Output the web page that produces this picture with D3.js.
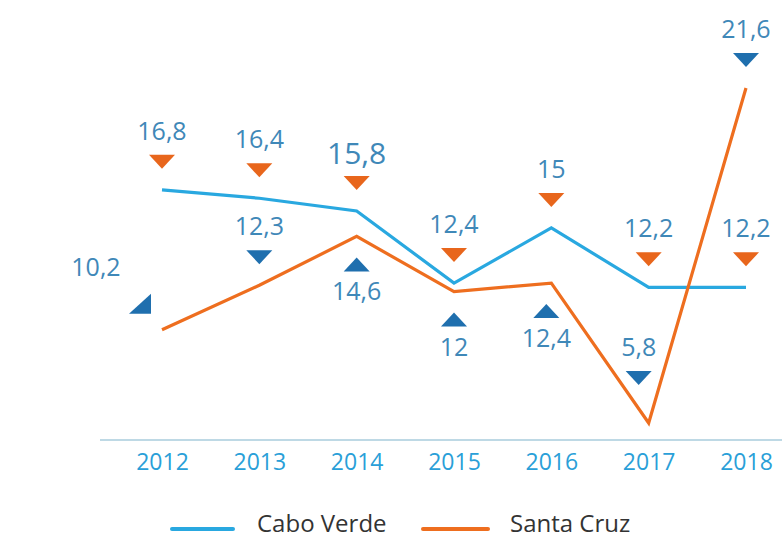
<!DOCTYPE html>
<html>
<head>
<meta charset="utf-8">
<script src="https://cdn.jsdelivr.net/npm/d3@7"></script>
<style>
  body { margin: 0; background: #fff; }
  text { font-family: "Open Sans", "Noto Sans", sans-serif; }
</style>
</head>
<body>
<script>
var years = ['2012', '2013', '2014', '2015', '2016', '2017', '2018']
var caboVerde = [16.8, 16.4, 15.8, 12.4, 15, 12.2, 12.2]
var santaCruz = [10.2, 12.3, 14.6, 12, 12.4, 5.8, 21.6]
// where the Santa Cruz value markers sit relative to the line
var scPlace = ['left', 'above', 'below', 'below', 'below', 'above', 'above']

var width = 782, height = 539
var fmt = v => String(v).replace('.', ',')

var svg = d3.select('body').append('svg').attr('width', width).attr('height', height)

var x = d3.scalePoint().domain(years).range([162, 746])
var y = d3.scaleLinear().domain([5, 21.6]).range([440, 88])

// baseline + year labels
var xAxis = d3.axisBottom(x).tickSize(0).tickPadding(14)
var axisG = svg.append('g').attr('transform', 'translate(0, 440)').call(xAxis)
axisG.select('.domain').remove()
axisG.append('line').attr('x1', 100).attr('x2', width).attr('stroke', '#a9cddd').attr('stroke-width', 1.5)
axisG.selectAll('.tick text').attr('fill', '#2a9fd8').attr('font-size', 23)
    .attr('font-family', '"Open Sans", sans-serif')

var line = d3.line()
    .x((d, i) => x(years[i]))
    .y(d => y(d))

svg.append('path').attr('d', line(caboVerde))
    .attr('fill', 'none').attr('stroke', '#29a8e0').attr('stroke-width', 3.2)
svg.append('path').attr('d', line(santaCruz))
    .attr('fill', 'none').attr('stroke', '#ee6e1f').attr('stroke-width', 3.2)

// triangles, w 26 h 14
var down = (cx, cy) => `M${cx - 13},${cy - 7} L${cx + 13},${cy - 7} L${cx},${cy + 7} Z`
var up = (cx, cy) => `M${cx - 13},${cy + 7} L${cx + 13},${cy + 7} L${cx},${cy - 7} Z`

var labelColor = '#3f88b8'

// Cabo Verde markers: orange down triangles above line
var cv = svg.append('g')
caboVerde.forEach(function(v, i) {
    var cx = x(years[i]), cy = y(v) - 28
    cv.append('path').attr('d', down(cx, cy)).attr('fill', '#e8661c')
    cv.append('text').attr('x', cx).attr('y', cy - (i === 2 ? 19 : 22))
        .attr('text-anchor', 'middle').attr('fill', labelColor)
        .attr('font-size', i === 2 ? 30 : 25).text(fmt(v))
})

// Santa Cruz markers: dark blue triangles
var sc = svg.append('g')
santaCruz.forEach(function(v, i) {
    var cx = x(years[i]), ly = y(v), p = scPlace[i]
    if (p === 'left') {
        var tx = cx - 22, ty = ly - 26
        sc.append('path').attr('fill', '#1f6fae')
            .attr('d', `M${tx - 11},${ty + 10} L${tx + 11},${ty + 10} L${tx + 11},${ty - 10} Z`)
        sc.append('text').attr('x', tx - 44).attr('y', ty - 28)
            .attr('text-anchor', 'middle').attr('fill', labelColor).attr('font-size', 25).text(fmt(v))
    } else if (p === 'above') {
        var off = i === 5 ? 45 : 28
        var ty = ly - off, tx = i === 5 ? cx - 10 : cx
        sc.append('path').attr('d', down(tx, ty)).attr('fill', '#1f6fae')
        sc.append('text').attr('x', tx).attr('y', ty - 22)
            .attr('text-anchor', 'middle').attr('fill', labelColor).attr('font-size', 25).text(fmt(v))
    } else {
        var ty = ly + 28, tx = i === 4 ? cx - 5 : cx
        sc.append('path').attr('d', up(tx, ty)).attr('fill', '#1f6fae')
        sc.append('text').attr('x', tx).attr('y', ty + 36)
            .attr('text-anchor', 'middle').attr('fill', labelColor).attr('font-size', 25).text(fmt(v))
    }
})

// legend
var legend = [['Cabo Verde', '#29a8e0', 172, 61, 257], ['Santa Cruz', '#ee6e1f', 423, 65, 510]]
legend.forEach(function(l) {
    svg.append('line').attr('x1', l[2]).attr('x2', l[2] + l[3]).attr('y1', 529).attr('y2', 529)
        .attr('stroke', l[1]).attr('stroke-width', 4).attr('stroke-linecap', 'round')
    svg.append('text').attr('x', l[4]).attr('y', 532).attr('fill', '#333')
        .attr('font-size', 24).text(l[0])
})
</script>
</body>
</html>
